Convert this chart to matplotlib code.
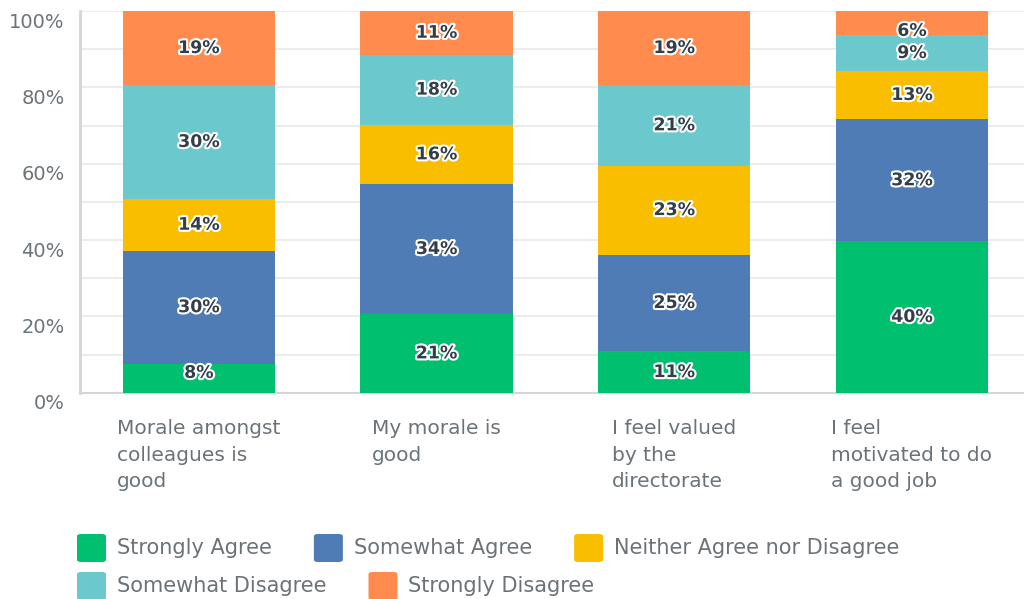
import matplotlib
matplotlib.use('Agg')
import matplotlib.pyplot as plt
import matplotlib.patheffects as pe
import matplotlib.transforms as transforms
from matplotlib.patches import FancyBboxPatch
import numpy as np

questions = ['Morale amongst\ncolleagues is\ngood', 'My morale is\ngood',
             'I feel valued\nby the\ndirectorate', 'I feel\nmotivated to do\na good job']
answers = ['Strongly Agree', 'Somewhat Agree', 'Neither Agree nor Disagree',
           'Somewhat Disagree', 'Strongly Disagree']
strongly_agree = [7.6, 20.6, 10.8, 39.7]
somewhat_agree = [29.6, 34.1, 25.4, 31.9]
neither = [13.6, 15.5, 23.3, 12.8]
somewhat_disagree = [29.8, 18.4, 21.1, 9.2]
strongly_disagree = [19.4, 11.4, 19.4, 6.4]
colors = ['#00bf6f', '#507cb6', '#f9be00', '#6bc8cd', '#ff8b4f']

series = [strongly_agree, somewhat_agree, neither, somewhat_disagree, strongly_disagree]
gray = '#6c7378'
plt.rcParams['font.family'] = ['DejaVu Sans']

W, H = 1024, 599
fig = plt.figure(figsize=(W / 100, H / 100), dpi=100)
ax = fig.add_axes([80 / W, 206.3 / H, 944 / W, 381.7 / H])

x = np.arange(len(questions))
bottom = np.zeros(len(questions))
for vals, col in zip(series, colors):
    vals = np.array(vals)
    ax.bar(x, vals, 0.64, bottom=bottom, color=col, zorder=3)
    for xi, b, v in zip(x, bottom, vals):
        ymid = np.clip(b + v / 2, 5.2, 94.8)
        ax.text(xi, ymid, '{:.0f}%'.format(v), ha='center', va='center',
                fontsize=12.5, fontweight='bold', color='#333e48', zorder=4,
                path_effects=[pe.withStroke(linewidth=3, foreground='white')])
    bottom += vals

ax.set_xlim(-0.5, -0.5 + 944 / 237.7)
ax.set_ylim(0, 100)
ax.set_yticks(range(0, 101, 20))
ax.set_yticklabels(['{}%'.format(v) for v in range(0, 101, 20)])
ax.set_yticks(range(10, 100, 20), minor=True)
ax.grid(axis='y', which='both', color='#ebebeb', lw=1.3, zorder=0)
ax.tick_params(axis='y', which='both', length=0, pad=11, labelsize=14, labelcolor=gray)
offset = transforms.ScaledTranslation(0, -9 / 100, fig.dpi_scale_trans)
for lab in ax.get_yticklabels():
    lab.set_transform(lab.get_transform() + offset)

ax.set_xticks(x)
ax.set_xticklabels(questions, multialignment='left', linespacing=1.5)
ax.tick_params(axis='x', length=0, pad=19, labelsize=14.5, labelcolor=gray)

for s in ['top', 'right']:
    ax.spines[s].set_visible(False)
ax.spines['left'].set_color('#d3d6d8')
ax.spines['left'].set_linewidth(2)
ax.spines['bottom'].set_color('#d3d6d8')
ax.spines['bottom'].set_linewidth(1.5)

# legend, laid out left to right and wrapped like the web version
renderer = fig.canvas.get_renderer()
px, py = 77, 548
for name, col in zip(answers, colors):
    t = fig.text(0, 0, name, fontsize=15, color=gray, va='center', ha='left')
    tw = t.get_window_extent(renderer).width
    if px + 40 + tw > W:
        px, py = 77, py + 38
    sq = FancyBboxPatch(((px) / W, 1 - (py + 14) / H), 29 / W, 28 / H,
                        boxstyle='round,pad=0,rounding_size=0.004',
                        transform=fig.transFigure, facecolor=col, edgecolor='none')
    fig.patches.append(sq)
    t.set_position(((px + 40) / W, 1 - py / H))
    px += 40 + tw + 42

fig.savefig('out.png', dpi=100)
